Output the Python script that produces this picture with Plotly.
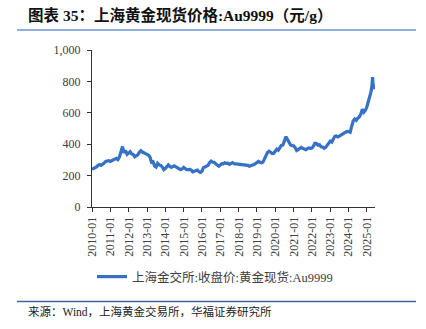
import pandas as pd
import plotly.graph_objects as go

# Monthly Au9999 close price (CNY/g)
dates = list(pd.date_range("2010-01-01", "2025-03-01", freq="MS").strftime("%Y-%m-%d")) + [
    "2025-03-20", "2025-04-10", "2025-04-22", "2025-05-05", "2025-05-20", "2025-06-05"]
prices = [
    240, 245, 250, 255, 265, 270, 265, 270, 280, 290, 295, 295,   # 2010
    290, 295, 300, 305, 310, 302, 318, 352, 385, 345, 360, 335,   # 2011
    345, 352, 338, 335, 320, 328, 332, 348, 358, 350, 345, 340,   # 2012
    340, 330, 318, 285, 288, 262, 255, 278, 268, 265, 255, 238,   # 2013
    245, 262, 268, 258, 252, 258, 262, 255, 248, 245, 238, 242,   # 2014
    252, 245, 238, 238, 240, 235, 224, 228, 230, 235, 225, 220,   # 2015
    228, 252, 255, 262, 265, 282, 292, 285, 285, 275, 270, 260,   # 2016
    268, 276, 275, 282, 278, 279, 272, 276, 283, 276, 275, 272,   # 2017
    276, 275, 272, 273, 271, 268, 265, 260, 262, 268, 270, 276,   # 2018
    285, 290, 285, 282, 286, 306, 318, 348, 355, 350, 340, 342,   # 2019
    352, 368, 362, 382, 392, 395, 422, 448, 430, 410, 395, 390,   # 2020
    390, 378, 360, 366, 376, 380, 374, 370, 365, 372, 376, 374,   # 2021
    376, 388, 406, 404, 394, 396, 384, 382, 374, 380, 396, 410,   # 2022
    420, 414, 432, 450, 452, 446, 452, 456, 464, 470, 476, 482,   # 2023
    480, 476, 512, 548, 560, 552, 566, 574, 592, 622, 604, 616,   # 2024
    640, 676, 702, 730, 770, 828, 772, 752, 778,                  # 2025
]

series_name = "上海金交所:收盘价:黄金现货:Au9999"
title_text = "图表 35：上海黄金现货价格:Au9999（元/g）"
source_text = "来源：Wind，上海黄金交易所，华福证券研究所"
y_ticks = [0, 200, 400, 600, 800, 1000]

W, H = 426, 329
L, R, T, B = 92, 375, 50, 207  # plot area in pixels


def px(x):
    return (x - L) / (R - L)


def py(y):
    return (B - y) / (B - T)


fig = go.Figure()
fig.add_trace(go.Scatter(
    x=dates, y=prices, mode="lines", name=series_name,
    line=dict(color="#3571C5", width=3.2),
))

serif = "Liberation Serif, 'Noto Serif CJK SC', serif"
fig.update_layout(
    width=W, height=H,
    margin=dict(l=L, r=W - R, t=T, b=H - B, pad=0),
    paper_bgcolor="white", plot_bgcolor="white",
    showlegend=True,
    legend=dict(orientation="h", x=px(92), xanchor="left", y=py(277), yanchor="middle",
                font=dict(family="Liberation Serif, 'Noto Sans CJK SC'", size=12.5, color="#404040"),
                itemwidth=30, bgcolor="rgba(0,0,0,0)", borderwidth=0),
    xaxis=dict(
        type="date", range=["2010-01-01", "2025-06-10"],
        tick0="2010-01-01", dtick="M12", tickformat="%Y-%m",
        tickangle=-90, ticks="outside", ticklen=4, tickcolor="#333",
        showline=True, linecolor="#333", linewidth=1, showgrid=False, zeroline=False,
        tickfont=dict(family=serif, size=12, color="#404040"),
    ),
    yaxis=dict(
        range=[0, 1000], tickvals=y_ticks, tickformat=",",
        ticks="outside", ticklen=4, tickcolor="#333",
        showline=True, linecolor="#333", linewidth=1, showgrid=False, zeroline=False,
        tickfont=dict(family=serif, size=12, color="#404040"),
        ticklabelstandoff=4,
    ),
)

fig.add_annotation(
    text="<b>" + title_text + "</b>", xref="paper", yref="paper",
    x=px(26), y=py(15), xanchor="left", yanchor="middle", showarrow=False,
    font=dict(family="Liberation Serif, 'Noto Sans CJK SC'", size=15.5, color="#111"),
)
fig.add_shape(type="line", xref="paper", yref="paper", x0=px(17), x1=px(416), y0=py(30), y1=py(30),
              line=dict(color="#6A97D6", width=1.5))
fig.add_shape(type="line", xref="paper", yref="paper", x0=px(17), x1=px(416), y0=py(301.5), y1=py(301.5),
              line=dict(color="#40649E", width=1.5))
fig.add_annotation(
    text=source_text, xref="paper", yref="paper",
    x=px(26), y=py(311), xanchor="left", yanchor="middle", showarrow=False,
    font=dict(family="Liberation Serif, 'Noto Sans CJK SC'", size=11.5, color="#222"),
)

fig.write_html("out.html")
